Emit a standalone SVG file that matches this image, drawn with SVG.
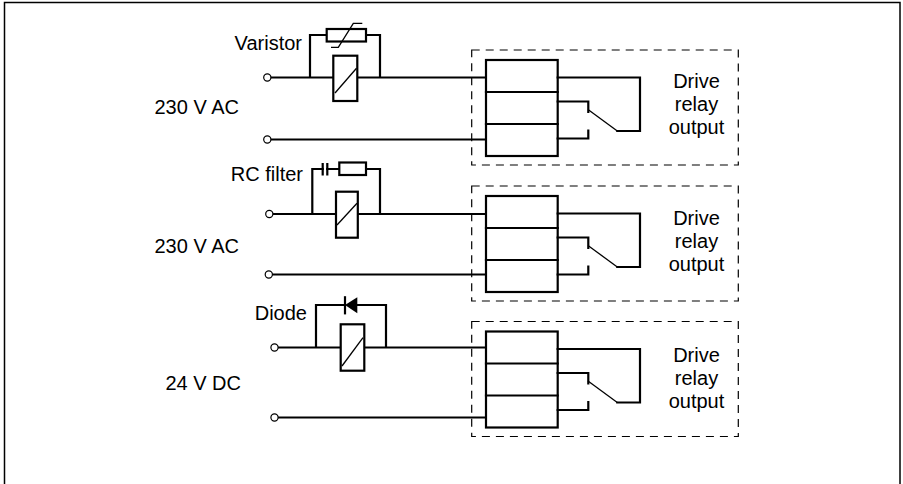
<svg xmlns="http://www.w3.org/2000/svg" width="903" height="484" viewBox="0 0 903 484">
<style>
.w{fill:none;stroke:#000;stroke-width:2.2;stroke-linecap:square}
.c{fill:#fff;stroke:#000;stroke-width:2.2}
.t{fill:none;stroke:#000;stroke-width:1.3}
.o{fill:#fff;stroke:#000;stroke-width:1.2}
.d{fill:none;stroke:#000;stroke-width:1.2;stroke-dasharray:8,6}
.lbl{font-family:"Liberation Sans",Arial,sans-serif;font-size:20px;fill:#000}
.mid{text-anchor:middle}
.end{text-anchor:end}
</style>
<defs>
<g id="relay">
<rect class="d" x="471.7" y="-10" width="266.6" height="115"/>
<rect class="c" x="486" y="0" width="71.7" height="96"/>
<path class="w" d="M486 32H557.7M486 64H557.7"/>
<path class="w" d="M557.7 17.5H640V71H617.3M557.7 41.5H588.3V52M557.7 78.5H588.3V70.5"/>
<path class="t" d="M617.3 71L588 49.5"/>
</g>
</defs>
<rect x="4.5" y="2.5" width="895.5" height="495" fill="none" stroke="#000" stroke-width="1.5"/>

<g id="connectors">
<path class="w" d="M271 77.5H333.3M357.3 77.5H486M310 77.5V35H326.7M366 35H380V77.5M271 139.5H486"/>
<path class="w" d="M273 214H336M358 214H486M312.3 214V169H322.7M327.3 169H339.3M366 169H380V214M272.5 274.5H486"/>
<path class="w" d="M278 347.5H340.7M364.3 347.5H486M316 347.5V305H345M357.3 305H386V347.5M278 417.5H486"/>
</g>

<g id="terminals">
<circle class="o" cx="267.3" cy="77.5" r="3.6"/>
<circle class="o" cx="267.3" cy="139.5" r="3.6"/>
<circle class="o" cx="269.3" cy="214" r="3.6"/>
<circle class="o" cx="268.8" cy="274.5" r="3.6"/>
<circle class="o" cx="274.5" cy="347.5" r="3.6"/>
<circle class="o" cx="274.5" cy="417.5" r="3.6"/>
</g>

<g id="coil1">
<rect class="c" x="333.3" y="55.7" width="24" height="45.3"/>
<path class="t" d="M335 93L356.5 68.3"/>
</g>
<g id="varistor">
<rect class="c" x="326.7" y="29" width="39.3" height="12.5"/>
<path class="t" d="M331 47.3H338.3L353.3 23.3H362.3"/>
</g>
<g id="coil2">
<rect class="c" x="336" y="191.7" width="21.8" height="46"/>
<path class="t" d="M337 225L357 203.3"/>
</g>
<g id="rcfilter">
<path class="w" d="M322.7 164V174.5M327.3 164V174.5"/>
<rect class="c" x="339.3" y="162.5" width="26.7" height="12.5"/>
</g>
<g id="coil3">
<rect class="c" x="340.7" y="324.3" width="23.6" height="46.4"/>
<path class="t" d="M342 366L363 337.7"/>
</g>
<g id="diode">
<polygon points="345,305 357.3,297.3 357.3,313.3" fill="#000"/>
<path class="w" d="M345 297.3V313.3"/>
</g>

<g id="relay1"><use href="#relay" transform="translate(0,60)"/></g>
<g id="relay2"><use href="#relay" transform="translate(0,196)"/></g>
<g id="relay3"><use href="#relay" transform="translate(0,331.5)"/></g>

<g id="labels">
<text class="lbl end" x="302" y="50">Varistor</text>
<text class="lbl end" x="239" y="114">230 V AC</text>
<text class="lbl end" x="303" y="181">RC filter</text>
<text class="lbl end" x="239" y="253">230 V AC</text>
<text class="lbl end" x="307" y="319.5">Diode</text>
<text class="lbl end" x="241" y="390">24 V DC</text>
<text class="lbl mid" x="696.5" y="88">Drive</text>
<text class="lbl mid" x="696.5" y="111">relay</text>
<text class="lbl mid" x="696.5" y="134">output</text>
<text class="lbl mid" x="696.5" y="225">Drive</text>
<text class="lbl mid" x="696.5" y="248">relay</text>
<text class="lbl mid" x="696.5" y="271">output</text>
<text class="lbl mid" x="696.5" y="361.5">Drive</text>
<text class="lbl mid" x="696.5" y="384.5">relay</text>
<text class="lbl mid" x="696.5" y="407.5">output</text>
</g>
</svg>
